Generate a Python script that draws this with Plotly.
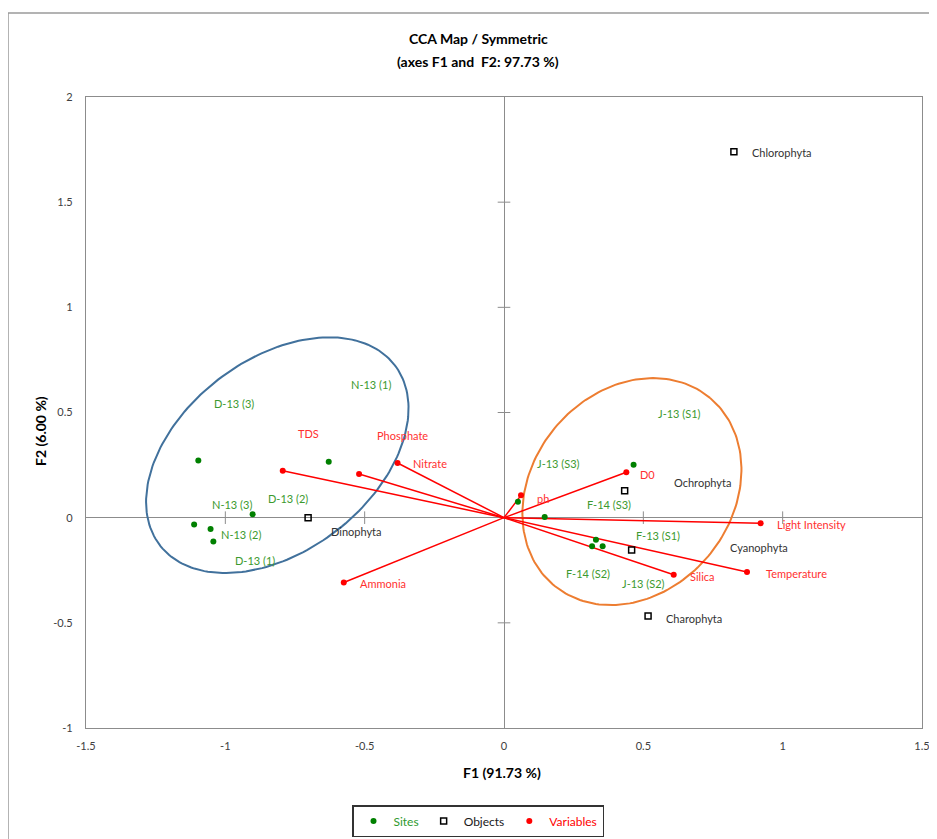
import numpy as np
import plotly.graph_objects as go

# ---------------- data ----------------
site_x = [-1.097, -0.629, -0.902, -1.112, -1.053, -1.043, 0.465, 0.050, 0.146, 0.330, 0.316, 0.354]
site_y = [0.272, 0.266, 0.016, -0.033, -0.054, -0.113, 0.252, 0.076, 0.003, -0.105, -0.136, -0.136]

site_labels = ["D-13 (3)", "N-13 (1)", "D-13 (2)", "N-13 (3)", "N-13 (2)", "D-13 (1)",
               "J-13 (S1)", "J-13 (S3)", "F-14 (S3)", "F-13 (S1)", "F-14 (S2)", "J-13 (S2)"]
site_label_x = [-0.969, -0.477, -0.775, -0.976, -0.944, -0.895, 0.629, 0.194, 0.378, 0.553, 0.301, 0.501]
site_label_y = [0.545, 0.632, 0.090, 0.062, -0.078, -0.203, 0.493, 0.256, 0.062, -0.086, -0.266, -0.314]

obj_names = ["Chlorophyta", "Dinophyta", "Ochrophyta", "Cyanophyta", "Charophyta"]
obj_x = [0.825, -0.703, 0.433, 0.458, 0.517]
obj_y = [1.740, 0.000, 0.128, -0.154, -0.467]
obj_label_x = [0.998, -0.531, 0.713, 0.915, 0.681]
obj_label_y = [1.735, -0.065, 0.165, -0.143, -0.477]

var_names = ["TDS", "Phosphate", "Nitrate", "Ammonia", "D0", "ph",
             "Light Intensity", "Temperature", "Silica"]
var_x = [-0.794, -0.520, -0.382, -0.575, 0.439, 0.061, 0.921, 0.872, 0.609]
var_y = [0.223, 0.208, 0.260, -0.308, 0.216, 0.106, -0.027, -0.258, -0.271]
var_label_x = [-0.703, -0.366, -0.266, -0.434, 0.516, 0.139, 1.105, 1.051, 0.711]
var_label_y = [0.399, 0.390, 0.257, -0.314, 0.204, 0.090, -0.033, -0.266, -0.281]

x_ticks = [-1.5, -1, -0.5, 0, 0.5, 1, 1.5]
y_ticks = [-1, -0.5, 0, 0.5, 1, 1.5, 2]

# ---------------- layout geometry (page has an 8px body margin) ----------------
OFF = 8
W, H = 937 - OFF, 839 - OFF
PLOT_L, PLOT_R, PLOT_T, PLOT_B = 86, 922, 97, 728   # target plot area in window pixels
ML = PLOT_L - OFF
MT = PLOT_T - OFF
MR = W - (PLOT_R - OFF)
MB = H - (PLOT_B - OFF)
XR = [-1.5, 1.5]
YR = [-1, 2]
PW, PH = W - ML - MR, H - MT - MB
px_per_x = PW / (XR[1] - XR[0])
px_per_y = PH / (YR[1] - YR[0])

def px_to_paper_x(px):
    return (px - PLOT_L) / PW

def px_to_paper_y(py):
    return (PLOT_B - py) / PH

def ellipse(cx, cy, a_px, b_px, theta_deg, n=200):
    t = np.linspace(0, 2 * np.pi, n)
    th = np.radians(theta_deg)
    dx = a_px * np.cos(t) * np.cos(th) - b_px * np.sin(t) * np.sin(th)
    dy = a_px * np.cos(t) * np.sin(th) + b_px * np.sin(t) * np.cos(th)
    return cx + dx / px_per_x, cy + dy / px_per_y

fig = go.Figure()

# ellipses
ex, ey = ellipse(-0.8135, 0.297, 148, 96, 37.4)
fig.add_trace(go.Scatter(x=ex, y=ey, mode="lines", line=dict(color="#41719c", width=2),
                         showlegend=False, hoverinfo="skip"))
ex, ey = ellipse(0.459, 0.124, 122, 100, 50.2)
fig.add_trace(go.Scatter(x=ex, y=ey, mode="lines", line=dict(color="#ed7d31", width=2),
                         showlegend=False, hoverinfo="skip"))

# tick marks on zero lines
xt_inner = [v for v in x_ticks if v not in (0, XR[0], XR[1])]
yt_inner = [v for v in y_ticks if v not in (0, YR[0], YR[1])]
fig.add_trace(go.Scatter(x=xt_inner, y=[0] * len(xt_inner), mode="markers",
                         marker=dict(symbol="line-ns-open", size=9, color="#8c8c8c",
                                     line=dict(color="#8c8c8c", width=1)),
                         showlegend=False, hoverinfo="skip"))
fig.add_trace(go.Scatter(x=[0] * len(yt_inner), y=yt_inner, mode="markers",
                         marker=dict(symbol="line-ew-open", size=9, color="#8c8c8c",
                                     line=dict(color="#8c8c8c", width=1)),
                         showlegend=False, hoverinfo="skip"))

# variable vectors
lx, ly = [], []
for x, y in zip(var_x, var_y):
    lx += [0, x, None]
    ly += [0, y, None]
fig.add_trace(go.Scatter(x=lx, y=ly, mode="lines", line=dict(color="#ff0000", width=1.5),
                         showlegend=False, hoverinfo="skip"))

fig.add_trace(go.Scatter(x=site_x, y=site_y, mode="markers",
                         marker=dict(color="#008000", size=6),
                         name="<span style='color:#2e9a2e'>Sites</span>"))
fig.add_trace(go.Scatter(x=obj_x, y=obj_y, mode="markers",
                         marker=dict(symbol="square-open", color="black", size=6,
                                     line=dict(width=1.5, color="black")),
                         name="<span style='color:#1a1a1a'>Objects</span>"))
fig.add_trace(go.Scatter(x=var_x, y=var_y, mode="markers",
                         marker=dict(color="#ff0000", size=6),
                         name="<span style='color:#ff0000'>Variables</span>"))

ann = []
for t, x, y in zip(site_labels, site_label_x, site_label_y):
    ann.append(dict(x=x, y=y, text=t, showarrow=False, font=dict(color="#3c9a2e", size=11)))
for t, x, y in zip(obj_names, obj_label_x, obj_label_y):
    ann.append(dict(x=x, y=y, text=t, showarrow=False, font=dict(color="#333333", size=11)))
for t, x, y in zip(var_names, var_label_x, var_label_y):
    ann.append(dict(x=x, y=y, text=t, showarrow=False, font=dict(color="#ff3030", size=11)))

def paper_text(text, px, py, angle=0):
    return dict(xref="paper", yref="paper", x=px_to_paper_x(px), y=px_to_paper_y(py),
                xanchor="center", yanchor="middle", text=text, textangle=angle,
                showarrow=False, font=dict(size=14, color="#000"))

ann.append(paper_text("<b>CCA Map / Symmetric</b>", 478, 39))
ann.append(paper_text("<b>(axes F1 and  F2: 97.73 %)</b>", 478, 61))
ann.append(paper_text("<b>F1 (91.73 %)</b>", 502, 772))
ann.append(paper_text("<b>F2 (6.00 %)</b>", 40, 431, -90))

shapes = [dict(type="rect", xref="paper", yref="paper",
               x0=px_to_paper_x(8), x1=1.2, y0=-0.4, y1=px_to_paper_y(13),
               line=dict(color="#9a9a9a", width=1.5), layer="below")]

fig.update_layout(
    width=W, height=H,
    margin=dict(l=ML, r=MR, t=MT, b=MB, autoexpand=False),
    paper_bgcolor="white", plot_bgcolor="white",
    font=dict(family="Lato, 'Open Sans', sans-serif", size=11, color="#404040"),
    annotations=ann, shapes=shapes,
    xaxis=dict(range=XR, tickvals=x_ticks, ticktext=[f"{v:g}" for v in x_ticks],
               showgrid=False, zeroline=True, zerolinecolor="#8c8c8c", zerolinewidth=1.2,
               showline=True, mirror=True, linecolor="#8c8c8c", linewidth=1.2,
               ticks="", ticklabelstandoff=8, automargin=False,
               tickfont=dict(size=11, color="#404040")),
    yaxis=dict(range=YR, tickvals=y_ticks, ticktext=[f"{v:g}" for v in y_ticks],
               showgrid=False, zeroline=True, zerolinecolor="#8c8c8c", zerolinewidth=1.2,
               showline=True, mirror=True, linecolor="#8c8c8c", linewidth=1.2,
               ticks="", ticklabelstandoff=10, automargin=False,
               tickfont=dict(size=11, color="#404040")),
    legend=dict(orientation="h", x=px_to_paper_x(478), xanchor="center",
                y=px_to_paper_y(821), yanchor="middle",
                bordercolor="#333333", borderwidth=1.5, bgcolor="white",
                font=dict(size=12), itemwidth=30, tracegroupgap=0),
    showlegend=True,
)

fig.write_html("out.html")
